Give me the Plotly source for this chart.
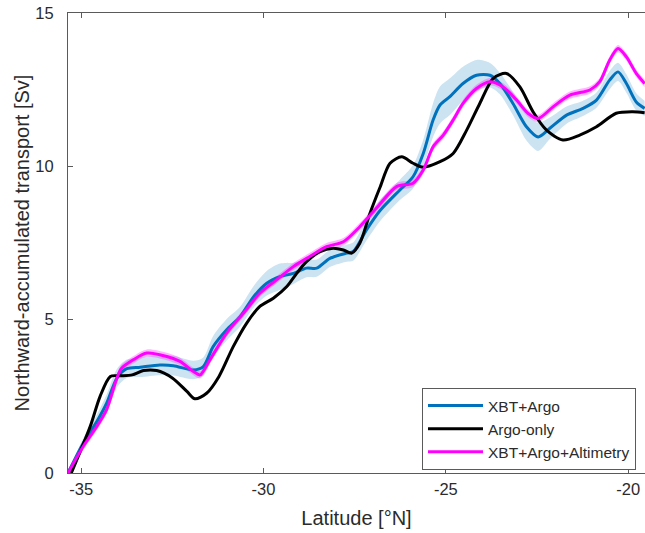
import plotly.graph_objects as go

# ---- data ----
lat_xbt = [-35.36, -34.94, -34.57, -34.30, -34.02, -33.75, -33.38, -32.84, -32.47, -31.92,
           -31.65, -31.38, -31.01, -30.64, -30.27, -29.91, -29.55, -29.18, -28.82, -28.54,
           -28.18, -27.72, -27.54, -27.18, -26.81, -26.26, -25.90, -25.62, -25.35, -25.16,
           -24.89, -24.53, -24.16, -23.79, -23.52, -23.16, -22.79, -22.47, -22.15, -21.69,
           -21.24, -20.87, -20.51, -20.28, -20.05, -19.78, -19.55]
xbt_argo = [0.0, 0.98, 1.68, 2.28, 3.09, 3.40, 3.45, 3.52, 3.50, 3.36,
            3.47, 4.12, 4.67, 5.10, 5.75, 6.19, 6.40, 6.51, 6.68, 6.68,
            7.00, 7.17, 7.22, 7.92, 8.55, 9.23, 9.66, 10.42, 11.51, 12.00,
            12.27, 12.70, 12.97, 12.97, 12.70, 12.05, 11.29, 10.96, 11.24, 11.67,
            11.89, 12.16, 12.81, 13.08, 12.70, 12.10, 11.89]
xbt_argo_err = [0.0, 0.15, 0.22, 0.28, 0.30, 0.30, 0.32, 0.33, 0.32, 0.30,
                0.30, 0.35, 0.35, 0.32, 0.35, 0.40, 0.43, 0.35, 0.30, 0.28,
                0.28, 0.28, 0.30, 0.35, 0.35, 0.33, 0.38, 0.45, 0.55, 0.60,
                0.60, 0.55, 0.50, 0.40, 0.35, 0.38, 0.45, 0.46, 0.35, 0.28,
                0.25, 0.25, 0.30, 0.30, 0.30, 0.28, 0.25]

lat_argo = [-35.27, -34.75, -34.48, -34.20, -33.93, -33.60, -33.29, -32.93, -32.50, -32.10,
            -31.88, -31.56, -31.22, -30.83, -30.46, -30.10, -29.73, -29.36, -29.09, -28.82,
            -28.45, -28.09, -27.81, -27.58, -27.36, -27.08, -26.81, -26.53, -26.21, -25.90,
            -25.62, -25.16, -24.80, -24.43, -24.07, -23.70, -23.34, -22.97, -22.61, -22.24,
            -21.79, -21.33, -20.87, -20.33, -19.88, -19.55]
argo_only = [0.0, 1.52, 2.50, 3.15, 3.17, 3.20, 3.34, 3.34, 3.10, 2.66,
             2.42, 2.60, 3.15, 4.12, 4.89, 5.43, 5.70, 6.08, 6.51, 6.89,
             7.22, 7.33, 7.27, 7.17, 7.49, 8.47, 9.30, 10.10, 10.31, 10.10,
             9.97, 10.15, 10.42, 11.18, 12.05, 12.87, 13.03, 12.59, 11.78, 11.18,
             10.86, 11.02, 11.29, 11.73, 11.78, 11.75]

lat_alt = [-35.36, -34.94, -34.57, -34.30, -34.02, -33.90, -33.57, -33.20, -32.65, -32.29,
           -31.92, -31.74, -31.47, -31.01, -30.55, -30.10, -29.64, -29.18, -28.73, -28.27,
           -27.81, -27.36, -26.85, -26.35, -25.90, -25.62, -25.35, -25.07, -24.80, -24.53,
           -24.16, -23.79, -23.43, -23.06, -22.75, -22.47, -22.06, -21.60, -21.05, -20.78,
           -20.51, -20.28, -20.05, -19.78, -19.55]
xbt_argo_alt = [0.0, 0.87, 1.52, 2.07, 3.09, 3.40, 3.69, 3.91, 3.80, 3.64,
                3.31, 3.20, 3.69, 4.56, 5.21, 5.86, 6.30, 6.73, 7.06, 7.38,
                7.54, 8.03, 8.71, 9.34, 9.45, 9.88, 10.64, 11.02, 11.51, 12.05,
                12.54, 12.76, 12.59, 12.16, 11.73, 11.56, 11.94, 12.32, 12.49, 12.76,
                13.46, 13.84, 13.57, 13.03, 12.70]
xbt_argo_alt_err = [0.12] * len(xbt_argo_alt)

x_ticks = [-35, -30, -25, -20]
y_ticks = [0, 5, 10, 15]
series_names = ["XBT+Argo", "Argo-only", "XBT+Argo+Altimetry"]

BLUE = "#0072BD"
BLUE_BAND = "rgb(204,227,242)"
MAG = "#FF00FF"
MAG_BAND = "rgba(255,0,255,0.28)"
AX = "#5a5a5a"
TXT = "#2b2b2b"
FONT = "Liberation Sans, Arial, sans-serif"

fig = go.Figure()

def band(x, y, e, color):
    lo = [a - b for a, b in zip(y, e)]
    hi = [a + b for a, b in zip(y, e)]
    fig.add_trace(go.Scatter(x=x, y=lo, mode="lines", line=dict(width=0, shape="spline", smoothing=0.8),
                             showlegend=False, hoverinfo="skip"))
    fig.add_trace(go.Scatter(x=x, y=hi, mode="lines", line=dict(width=0, shape="spline", smoothing=0.8),
                             fill="tonexty", fillcolor=color, showlegend=False, hoverinfo="skip"))

band(lat_xbt, xbt_argo, xbt_argo_err, BLUE_BAND)
band(lat_alt, xbt_argo_alt, xbt_argo_alt_err, MAG_BAND)

fig.add_trace(go.Scatter(x=lat_xbt, y=xbt_argo, mode="lines", name=series_names[0],
                         line=dict(color=BLUE, width=3, shape="spline", smoothing=0.8)))
fig.add_trace(go.Scatter(x=lat_argo, y=argo_only, mode="lines", name=series_names[1],
                         line=dict(color="black", width=3, shape="spline", smoothing=0.8)))
fig.add_trace(go.Scatter(x=lat_alt, y=xbt_argo_alt, mode="lines", name=series_names[2],
                         line=dict(color=MAG, width=3, shape="spline", smoothing=0.8)))

fig.update_layout(
    width=645, height=533,
    margin=dict(l=68, r=0, t=13, b=60),
    paper_bgcolor="white", plot_bgcolor="white",
    font=dict(family=FONT, color=TXT, size=16),
    showlegend=True,
    legend=dict(x=0.6135, y=0.185, xanchor="left", yanchor="top",
                bgcolor="white", bordercolor=AX, borderwidth=1,
                font=dict(family=FONT, size=15.5, color=TXT),
                itemwidth=55, tracegroupgap=0, traceorder="normal"),
    xaxis=dict(range=[-35.36, -19.54], tickvals=x_ticks, ticktext=[str(v) for v in x_ticks],
               ticks="inside", ticklen=5, tickcolor=AX, showline=True, linecolor=AX, linewidth=1,
               mirror="ticks", showgrid=False, zeroline=False, ticklabeloverflow="allow",
               automargin="bottom",
               tickfont=dict(size=16.5, color=TXT), ticklabelstandoff=1,
               title=dict(text="Latitude [°N]", font=dict(size=20, color=TXT), standoff=14)),
    yaxis=dict(range=[0, 15], tickvals=y_ticks, ticktext=[str(v) for v in y_ticks],
               ticks="inside", ticklen=5, tickcolor=AX, showline=True, linecolor=AX, linewidth=1,
               showgrid=False, zeroline=False, ticklabeloverflow="allow",
               automargin="left",
               tickfont=dict(size=16.5, color=TXT), ticklabelstandoff=10,
               title=dict(text="Northward-accumulated transport [Sv]", font=dict(size=20, color=TXT),
                          standoff=0)),
)

# remove the default 8px body margin so the figure fills the window exactly
fig.write_html("out.html", config={"displayModeBar": False},
               post_script="document.body.style.margin='0';")
